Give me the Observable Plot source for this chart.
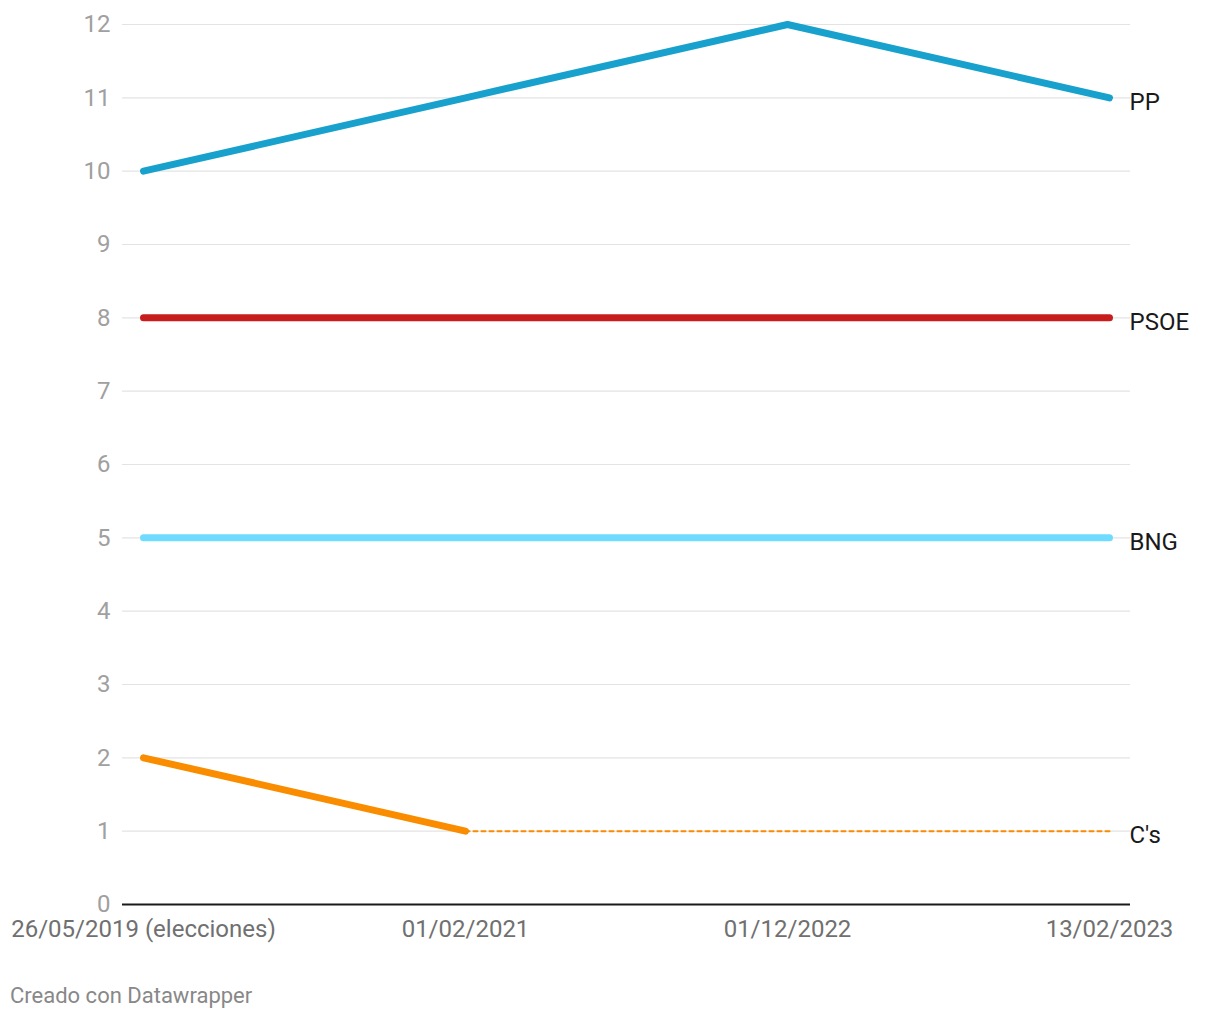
<!DOCTYPE html>
<html>
<head>
<meta charset="utf-8">
<script src="https://cdn.jsdelivr.net/npm/d3@7"></script>
<script src="https://cdn.jsdelivr.net/npm/@observablehq/plot@0.6"></script>
<style>
  body { margin: 0; background: #fff; font-family: Roboto, sans-serif; }
  #chart { width: 1220px; }
  .footer { font-family: Roboto, sans-serif; font-size: 22px; color: #888; margin: 33px 0 0 10px; line-height: 1.2; }
</style>
</head>
<body>
<div id="chart"></div>
<div class="footer">Creado con Datawrapper</div>
<script>
const dates = ["26/05/2019 (elecciones)", "01/02/2021", "01/12/2022", "13/02/2023"];
const ppValues   = [10, 11, 12, 11];
const psoeValues = [8, 8, 8, 8];
const bngValues  = [5, 5, 5, 5];
const csValues   = [2, 1, null, null];
const csDotted   = [null, 1, 1, 1];
const yTicks = [0,1,2,3,4,5,6,7,8,9,10,11,12];
const seriesNames = ["PP", "PSOE", "BNG", "C's"];
const seriesColors = ["#18a1cd", "#c71e1d", "#6fdcff", "#fa8c00"];

const seriesValues = [ppValues, psoeValues, bngValues, csValues];
const rows = [];
seriesValues.forEach((vals, i) => {
  vals.forEach((v, j) => rows.push({series: seriesNames[i], date: dates[j], value: v}));
});
const dotted = csDotted.map((v, j) => ({series: "C's", date: dates[j], value: v})).filter(d => d.value != null);
const endLabels = seriesNames.map((s, i) => {
  const vals = i === 3 ? csDotted : seriesValues[i];
  return {series: s, date: dates[dates.length - 1], value: vals[vals.length - 1]};
});

const chart = Plot.plot({
  width: 1220,
  height: 950,
  marginLeft: 122,
  marginRight: 90,
  marginTop: 24,
  marginBottom: 46,
  style: {fontFamily: "Roboto, sans-serif", fontSize: "24px", background: "#fff"},
  x: {type: "point", domain: dates, padding: 0.0604, label: null},
  y: {domain: [0, 12], label: null},
  color: {domain: seriesNames, range: seriesColors},
  marks: [
    Plot.ruleY(yTicks.filter(t => t !== 0), {stroke: "#e3e3e3", strokeWidth: 1.2}),
    Plot.ruleY([0], {stroke: "#1a1a1a", strokeWidth: 2}),
    Plot.axisY({ticks: yTicks, tickSize: 0, tickPadding: 12, fill: "#a0a0a0", label: null, tickFormat: d => String(d)}),
    Plot.axisX({tickSize: 0, tickPadding: 15, fill: "#707070", label: null}),
    Plot.line(dotted, {x: "date", y: "value", stroke: "#fa8c00", strokeWidth: 2, strokeDasharray: "4,4"}),
    Plot.line(rows.filter(d => d.value != null), {x: "date", y: "value", z: "series", stroke: d => d.series, strokeWidth: 7, strokeLinecap: "round", strokeLinejoin: "round"}),
    Plot.text(endLabels, {x: "date", y: "value", text: "series", dx: 20, dy: 4, textAnchor: "start", fill: "#1a1a1a"})
  ]
});
document.getElementById("chart").appendChild(chart);
</script>
</body>
</html>
